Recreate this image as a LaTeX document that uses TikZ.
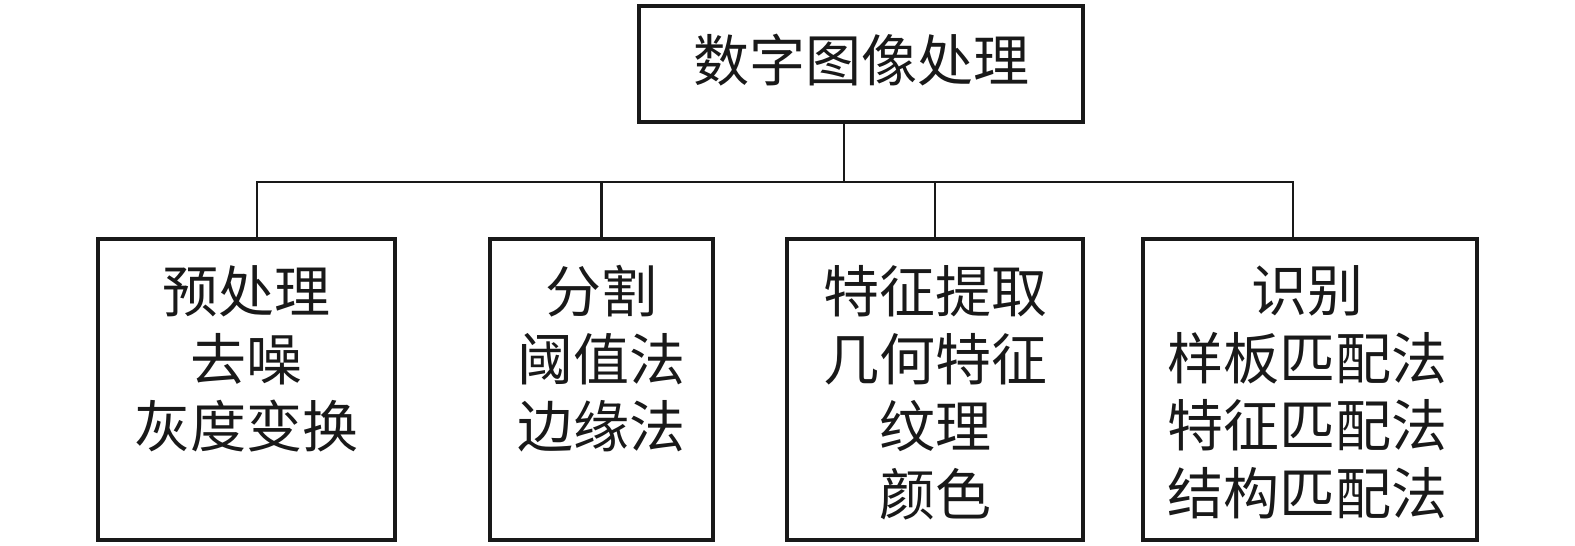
\documentclass[tikz,border=0pt]{standalone}
\usepackage{fontspec}
\newfontfamily\cjk{Noto Sans CJK SC}
\begin{document}
\begin{tikzpicture}[x=1pt,y=-1pt,
  box/.style={draw=black!90,line width=3.2pt,inner sep=0pt,fill=none},
  txt/.style={font=\cjk\fontsize{56}{67.5}\selectfont,align=center,inner sep=0pt,text=black!90},
  conn/.style={draw=black!90,line width=2.4pt}]
\useasboundingbox (0,0) rectangle (1575,546);
% boxes
\node[box,minimum width=444pt,minimum height=116pt] (top) at (861,64) {};
\node[box,minimum width=297pt,minimum height=301pt] (b1) at (246.5,389.5) {};
\node[box,minimum width=223pt,minimum height=301pt] (b2) at (601.5,389.5) {};
\node[box,minimum width=296pt,minimum height=301pt] (b3) at (935,389.5) {};
\node[box,minimum width=334pt,minimum height=301pt] (b4) at (1310,389.5) {};
% texts
\node[txt] (ttop) at ([yshift=4pt]top.center) {数字图像处理};
\node[txt,anchor=north] (t1) at ([yshift=-28pt]b1.north) {预处理\\去噪\\灰度变换};
\node[txt,anchor=north] (t2) at ([yshift=-28pt]b2.north) {分割\\阈值法\\边缘法};
\node[txt,anchor=north] (t3) at ([yshift=-28pt]b3.north) {特征提取\\几何特征\\纹理\\颜色};
\node[txt,anchor=north] (t4) at ([xshift=-3pt,yshift=-28pt]b4.north) {识别\\样板匹配法\\特征匹配法\\结构匹配法};
% junction coordinates
\coordinate (jt) at (844,182);
\coordinate (j1) at (257,182);
\coordinate (j4) at (1293,182);
% connectors
\draw[conn] (jt |- top.south) -- (jt);
\draw[conn] (j1 |- b1.north) -- (j1) -- (j4) -- (j4 |- b4.north);
\draw[conn] (b2.north |- jt) -- (b2.north);
\draw[conn] (b3.north |- jt) -- (b3.north);
\end{tikzpicture}
\end{document}
